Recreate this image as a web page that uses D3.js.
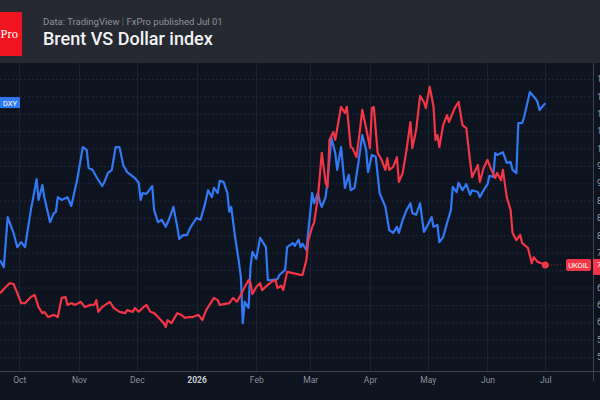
<!DOCTYPE html>
<html>
<head>
<meta charset="utf-8">
<script src="https://cdn.jsdelivr.net/npm/d3@7"></script>
<style>
  body { margin: 0; background: #0e1320; }
  svg { display: block; font-family: Roboto, "Noto Sans", sans-serif; }
</style>
</head>
<body>
<div id="chart"></div>
<script>
// day offsets from 2025-09-21
const startDate = new Date(2025, 8, 21);

// Brent (UKOIL), right scale: [day, price]
const brent = [
  [0,66.7],[3,68.1],[5,69.0],[7,68.8],[9,66.7],[11,64.4],[13,64.4],[16,65.8],[18,66.3],[20,63.5],
  [22,62.1],[23,62.4],[25,61.2],[28,61.7],[30,61.2],[32,65.6],[34,65.8],[35,64.0],[37,64.4],[39,64.0],
  [42,64.7],[44,63.5],[47,64.0],[49,64.0],[50,65.1],[51,62.4],[53,63.5],[56,64.4],[57,64.7],[59,63.3],
  [62,62.4],[65,62.1],[66,62.8],[69,62.4],[70,63.3],[72,62.4],[74,63.3],[76,64.0],[78,62.4],[80,62.1],
  [82,61.2],[85,59.8],[86,58.9],[87,60.5],[89,59.8],[92,62.1],[94,61.7],[96,61.0],[98,61.2],[100,61.2],
  [103,61.7],[105,60.5],[107,62.8],[111,65.6],[113,65.1],[114,64.0],[119,64.4],[121,65.6],[123,64.7],[125,66.3],
  [127,68.1],[129,69.7],[130,69.0],[131,66.5],[133,68.1],[135,69.0],[136,67.4],[139,68.6],[141,69.3],[143,69.7],
  [144,67.9],[146,68.4],[147,67.4],[149,71.6],[152,71.3],[156,70.9],[157,70.9],[159,74.3],[160,78.9],[162,81.9],
  [163,82.9],[165,88.8],[167,99.0],[169,92.1],[170,91.1],[171,102.0],[173,103.8],[174,102.0],[177,109.6],[179,108.2],
  [180,109.6],[182,100.3],[183,100.1],[185,98.0],[187,105.0],[188,108.9],[190,104.7],[192,100.1],[193,109.3],[194,109.6],
  [196,99.0],[198,97.4],[200,95.1],[201,97.8],[202,95.1],[204,95.7],[206,98.0],[207,92.3],[209,94.4],[211,99.7],
  [213,106.1],[214,100.1],[216,104.3],[218,112.1],[220,110.7],[221,109.3],[223,114.2],[225,109.6],[226,102.0],[227,103.1],
  [228,100.3],[230,105.4],[232,107.7],[233,106.1],[236,109.3],[238,110.7],[240,105.4],[242,104.7],[244,96.9],[245,93.4],
  [248,96.2],[249,92.3],[251,95.5],[253,97.4],[255,95.1],[257,93.2],[258,94.4],[260,92.7],[261,95.1],[263,88.8],
  [265,85.8],[266,80.6],[268,78.9],[270,80.1],[271,78.2],[274,77.1],[276,73.6],[277,75.0],[279,73.9],[281,73.6],
  [283,73.2]
];

// Dollar index (DXY), hidden left scale: [day, value]
const dxy = [
  [0,97.09],[2,96.94],[4,98.02],[7,97.68],[9,97.37],[11,97.48],[13,97.37],[16,98.17],[17,98.39],[19,98.84],
  [20,98.39],[22,98.71],[23,98.45],[26,97.91],[28,98.11],[29,98.13],[30,98.45],[32,98.39],[35,98.45],[37,98.26],
  [40,98.82],[43,99.53],[45,99.47],[46,99.08],[48,99.04],[50,98.89],[53,98.69],[54,98.76],[56,98.97],[58,99.04],
  [60,99.53],[62,99.53],[64,99.14],[66,98.99],[70,98.86],[72,98.76],[73,98.39],[74,98.54],[76,98.52],[79,98.69],
  [80,98.17],[82,97.91],[84,97.96],[86,97.81],[88,98.00],[90,98.24],[92,97.81],[93,97.55],[95,97.63],[97,97.63],
  [99,97.81],[102,98.00],[104,97.96],[106,98.24],[108,98.60],[110,98.45],[111,98.65],[113,98.54],[114,98.80],[116,98.78],
  [118,98.54],[119,98.13],[120,98.24],[122,97.59],[124,97.05],[125,96.73],[126,95.73],[127,96.19],[129,96.06],[130,96.94],
  [131,97.27],[133,97.12],[135,97.57],[138,97.37],[139,96.66],[141,96.66],[144,96.68],[145,96.77],[148,96.88],[149,97.37],
  [152,97.46],[153,97.40],[155,97.53],[156,97.37],[157,97.44],[159,97.31],[161,98.11],[162,98.54],[163,98.32],[165,98.54],
  [166,98.35],[167,98.24],[169,98.45],[170,98.82],[172,99.73],[174,99.40],[175,99.04],[177,99.53],[179,98.65],[181,98.93],
  [182,98.60],[184,98.65],[186,99.19],[188,99.79],[190,99.47],[191,98.99],[193,99.36],[195,99.32],[197,98.54],[200,98.24],
  [202,97.74],[204,97.68],[206,97.81],[207,97.68],[209,97.96],[211,98.17],[213,98.32],[214,98.11],[216,98.07],[218,98.32],
  [220,97.70],[222,97.85],[224,98.02],[225,97.81],[227,97.85],[228,97.48],[230,97.59],[232,97.89],[234,98.17],[235,98.67],
  [237,98.56],[238,98.76],[240,98.60],[242,98.73],[244,98.50],[245,98.60],[248,98.56],[249,98.45],[251,98.60],[253,98.73],
  [254,98.91],[256,98.89],[257,99.40],[258,99.36],[261,99.42],[263,99.19],[265,99.21],[266,99.04],[268,98.97],[269,100.05],
  [271,100.05],[272,100.18],[275,100.72],[278,100.57],[279,100.50],[280,100.33],[283,100.48]
];

const monthTicks = ["2025-10-01","2025-11-01","2025-12-01","2026-01-01","2026-02-01","2026-03-01","2026-04-01","2026-05-01","2026-06-01","2026-07-01"];
const monthLabels = ["Oct","Nov","Dec","2026","Feb","Mar","Apr","May","Jun","Jul"];
const brentTicks = [52,56,60,64,68,72,76,80,84,88,92,96,100,104,108,112,116];

const W = 600, H = 400;
const plot = { top: 63, bottom: 371, right: 593 };

const svg = d3.select("#chart").append("svg").attr("width", W).attr("height", H);

const dayToDate = (d) => d3.timeDay.offset(startDate, d);

const x = d3.scaleTime()
  .domain([startDate, dayToDate(283)])
  .range([0, 545.3]);
const yBrent = d3.scaleLinear().domain([52, 116]).range([357, 79]);
const yDxy = d3.scaleLinear().domain([95, 101]).range([357, 79]);

// backgrounds
svg.append("rect").attr("width", W).attr("height", H).attr("fill", "#0e1320");
svg.append("rect").attr("width", W).attr("height", plot.top).attr("fill", "#262932");

// grid
const grid = svg.append("g");
grid.selectAll("line.h").data(brentTicks).join("line")
  .attr("x1", 0).attr("x2", plot.right)
  .attr("y1", (d) => yBrent(d) + 0.5).attr("y2", (d) => yBrent(d) + 0.5)
  .attr("stroke", "#1f2634").attr("stroke-dasharray", "2,2");
const tickDates = monthTicks.map((s) => d3.timeParse("%Y-%m-%d")(s));
grid.selectAll("line.v").data(tickDates).join("line")
  .attr("x1", (d) => Math.round(x(d)) + 0.5).attr("x2", (d) => Math.round(x(d)) + 0.5)
  .attr("y1", plot.top).attr("y2", plot.bottom)
  .attr("stroke", "#1b2230");

// axis lines
svg.append("line").attr("x1", 0).attr("x2", plot.right + 7)
  .attr("y1", plot.bottom + 0.5).attr("y2", plot.bottom + 0.5).attr("stroke", "#3d4250");
svg.append("line").attr("x1", plot.right + 0.5).attr("x2", plot.right + 0.5)
  .attr("y1", plot.top).attr("y2", plot.bottom + 10).attr("stroke", "#3d4250");

// x axis
const xAxis = svg.append("g")
  .attr("transform", `translate(0,${plot.bottom})`)
  .call(d3.axisBottom(x).tickValues(tickDates).tickSize(0).tickPadding(6)
    .tickFormat((d, i) => monthLabels[i]));
xAxis.select(".domain").remove();
xAxis.selectAll("text")
  .attr("font-family", "Roboto, sans-serif")
  .attr("font-size", 8.5)
  .attr("fill", (d, i) => monthLabels[i] === "2026" ? "#c9ccd3" : "#8b909c")
  .attr("font-weight", (d, i) => monthLabels[i] === "2026" ? "bold" : "normal");

// right axis (Brent)
const lastBrent = brent[brent.length - 1];
const yAxis = svg.append("g")
  .attr("transform", `translate(${plot.right},0)`)
  .call(d3.axisRight(yBrent).tickValues(brentTicks.filter((v) => v !== 72)).tickSize(0).tickPadding(4));
yAxis.select(".domain").remove();
yAxis.selectAll("text")
  .attr("font-family", "Roboto, sans-serif")
  .attr("font-size", 8.5)
  .attr("fill", "#9aa0ab");

// lines
svg.append("clipPath").attr("id", "clip")
  .append("rect").attr("x", 0).attr("y", plot.top).attr("width", plot.right).attr("height", plot.bottom - plot.top);

const lineBrent = d3.line().x((d) => x(dayToDate(d[0]))).y((d) => yBrent(d[1]));
const lineDxy = d3.line().x((d) => x(dayToDate(d[0]))).y((d) => yDxy(d[1]));

const lines = svg.append("g").attr("clip-path", "url(#clip)");
lines.append("path").datum(dxy)
  .attr("d", lineDxy).attr("fill", "none")
  .attr("stroke", "#3179f5").attr("stroke-width", 2.2).attr("stroke-linejoin", "round");
lines.append("path").datum(brent)
  .attr("d", lineBrent).attr("fill", "none")
  .attr("stroke", "#f23645").attr("stroke-width", 2.2).attr("stroke-linejoin", "round");

// last value markers
const bx = x(dayToDate(lastBrent[0])), by = yBrent(lastBrent[1]);
svg.append("line").attr("x1", bx).attr("x2", 563).attr("y1", by).attr("y2", by)
  .attr("stroke", "#f23645").attr("stroke-dasharray", "1,2").attr("opacity", 0.7);
svg.append("circle").attr("cx", bx).attr("cy", by).attr("r", 3.5).attr("fill", "#f23645");

svg.append("rect").attr("x", 566).attr("y", by - 6).attr("width", 25).attr("height", 12)
  .attr("rx", 2).attr("fill", "#f23645");
svg.append("text").attr("x", 578.5).attr("y", by + 3).attr("text-anchor", "middle")
  .attr("font-size", 7.5).attr("fill", "#fff").text("UKOIL");
svg.append("rect").attr("x", plot.right).attr("y", by - 6).attr("width", 10).attr("height", 16)
  .attr("fill", "#f23645");
svg.append("text").attr("x", plot.right + 4).attr("y", by + 2).attr("font-size", 8)
  .attr("fill", "#fff").text(lastBrent[1].toFixed(2));

const lastDxy = dxy[dxy.length - 1];
const dy = yDxy(lastDxy[1]);
svg.append("rect").attr("x", 0).attr("y", dy - 6).attr("width", 20).attr("height", 11)
  .attr("fill", "#3179f5");
svg.append("text").attr("x", 3).attr("y", dy + 2.5).attr("font-size", 7.5)
  .attr("fill", "#fff").text("DXY");

// header
svg.append("rect").attr("x", 0).attr("y", 12).attr("width", 22).attr("height", 44).attr("fill", "#f0141e");
svg.append("text").attr("x", 18).attr("y", 38).attr("text-anchor", "end")
  .attr("font-family", "'Liberation Serif', serif").attr("font-size", 12.5)
  .attr("fill", "#fff").text("FxPro");

const sub = svg.append("text").attr("x", 43).attr("y", 24.5)
  .attr("font-size", 9.5).attr("fill", "#8e919b");
sub.append("tspan").text("Data: TradingView ");
sub.append("tspan").attr("fill", "#5c5f69").text("|");
sub.append("tspan").text(" FxPro published Jul 01");

svg.append("text").attr("x", 43).attr("y", 44.5)
  .attr("font-size", 18).attr("font-weight", 500).attr("fill", "#f2f3f5")
  .text("Brent VS Dollar index");
</script>
</body>
</html>
